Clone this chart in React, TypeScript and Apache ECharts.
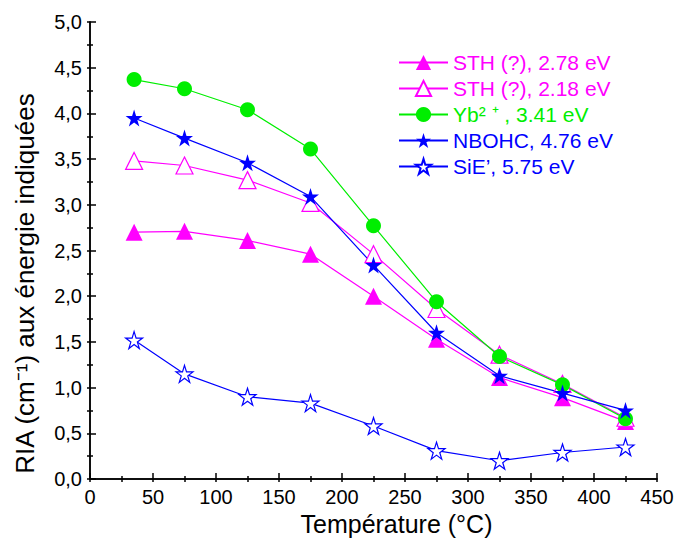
import React, { useEffect, useRef } from "react";
import * as echarts from "echarts";

const temperatures = [35, 75, 125, 175, 225, 275, 325, 375, 425];
const sth278 = [2.70, 2.71, 2.61, 2.46, 2.00, 1.53, 1.11, 0.89, 0.63];
const sth218 = [3.48, 3.43, 3.27, 3.02, 2.46, 1.86, 1.36, 1.04, 0.67];
const yb341 = [4.37, 4.27, 4.04, 3.61, 2.77, 1.94, 1.34, 1.03, 0.66];
const nbohc476 = [3.95, 3.73, 3.46, 3.09, 2.34, 1.60, 1.13, 0.94, 0.75];
const sie575 = [1.52, 1.15, 0.90, 0.83, 0.58, 0.31, 0.20, 0.29, 0.35];

const seriesNames = [
  "STH (?), 2.78 eV",
  "STH (?), 2.18 eV",
  "Yb² ⁺ , 3.41 eV",
  "NBOHC, 4.76 eV",
  "SiE’, 5.75 eV",
];

const MAGENTA = "#ff00ff";
const GREEN = "#00ee00";
const BLUE = "#0000ff";
const FONT = "Arial, 'Liberation Sans', sans-serif";
const STAR =
  "path://M50,0 L61.2,34.5 L97.6,34.5 L68.2,55.9 L79.4,90.5 L50,69.1 L20.6,90.5 L31.8,55.9 L2.4,34.5 L38.8,34.5 Z";

function pairs(ys: number[]) {
  return ys.map((y, i) => [temperatures[i], y]);
}

export default function App() {
  const ref = useRef<HTMLDivElement>(null);
  useEffect(() => {
    if (!ref.current) return;
    const chart = echarts.init(ref.current, undefined, { renderer: "svg" });
    const axisLine = { show: true, lineStyle: { color: "#000", width: 1.5 } };
    const tickStyle = { color: "#000", width: 1.5 };
    const mk = (
      name: string,
      data: number[],
      color: string,
      symbol: string,
      size: number,
      open: boolean
    ) => ({
      name,
      type: "line",
      data: pairs(data),
      symbol,
      symbolSize: size,
      showAllSymbol: true,
      lineStyle: { color, width: 1.2 },
      itemStyle: open
        ? { color: "#ffffff", borderColor: color, borderWidth: 1.2 }
        : { color, borderColor: color, borderWidth: 0 },
      emphasis: { disabled: true },
      z: 2,
    });
    chart.setOption({
      animation: false,
      grid: { left: 90, right: 18, top: 22, bottom: 59, outerBoundsMode: "none", containLabel: false },
      legend: {
        orient: "vertical",
        left: 393,
        top: 47,
        itemWidth: 49,
        itemHeight: 19,
        itemGap: 5,
        textStyle: { fontSize: 21, fontFamily: FONT, lineHeight: 21 },
        data: [
          { name: seriesNames[0], textStyle: { color: MAGENTA } },
          { name: seriesNames[1], textStyle: { color: MAGENTA } },
          { name: seriesNames[2], textStyle: { color: GREEN } },
          { name: seriesNames[3], textStyle: { color: BLUE } },
          { name: seriesNames[4], textStyle: { color: BLUE } },
        ],
      },
      xAxis: [
        {
          type: "value",
          min: 0,
          max: 450,
          interval: 50,
          name: "Température (°C)",
          nameLocation: "middle",
          nameGap: 31,
          nameTextStyle: {
            fontSize: 25,
            lineHeight: 25,
            fontFamily: FONT,
            color: "#000",
            padding: [0, 0, 0, 46],
          },
          axisLine,
          axisTick: { inside: true, length: 6, lineStyle: tickStyle },
          minorTick: { show: true, splitNumber: 2, length: 3, lineStyle: tickStyle },
          axisLabel: { fontSize: 20, fontFamily: FONT, color: "#000", margin: 8 },
          splitLine: { show: false },
        },
        {
          type: "value",
          position: "top",
          min: 0,
          max: 450,
          interval: 25,
          axisLine,
          axisTick: { inside: true, length: 3, lineStyle: tickStyle },
          minorTick: { show: false },
          axisLabel: { show: false },
          splitLine: { show: false },
        },
      ],
      yAxis: [
        {
          type: "value",
          min: 0,
          max: 5,
          interval: 0.5,
          name: "RIA (cm⁻¹) aux énergie indiquées",
          nameLocation: "middle",
          nameGap: 52,
          nameTextStyle: { fontSize: 26, fontFamily: FONT, color: "#000", padding: [0, 66, 0, 0] },
          axisLine,
          axisTick: { inside: true, length: 6, lineStyle: tickStyle },
          minorTick: { show: true, splitNumber: 2, length: 3, lineStyle: tickStyle },
          axisLabel: {
            fontSize: 20,
            fontFamily: FONT,
            color: "#000",
            margin: 8,
            formatter: (v: number) => v.toFixed(1).replace(".", ","),
          },
          splitLine: { show: false },
        },
        {
          type: "value",
          position: "right",
          min: 0,
          max: 5,
          interval: 0.25,
          axisLine,
          axisTick: { inside: true, length: 3, lineStyle: tickStyle },
          axisLabel: { show: false },
          splitLine: { show: false },
        },
      ],
      series: [
        mk(seriesNames[0], sth278, MAGENTA, "triangle", 17, false),
        mk(seriesNames[1], sth218, MAGENTA, "triangle", 17, true),
        mk(seriesNames[2], yb341, GREEN, "circle", 15, false),
        mk(seriesNames[3], nbohc476, BLUE, STAR, 17, false),
        mk(seriesNames[4], sie575, BLUE, STAR, 17, true),
      ],
    });
    return () => chart.dispose();
  }, []);
  return <div ref={ref} style={{ width: 675, height: 538, position: "absolute", left: 0, top: 0 }} />;
}
